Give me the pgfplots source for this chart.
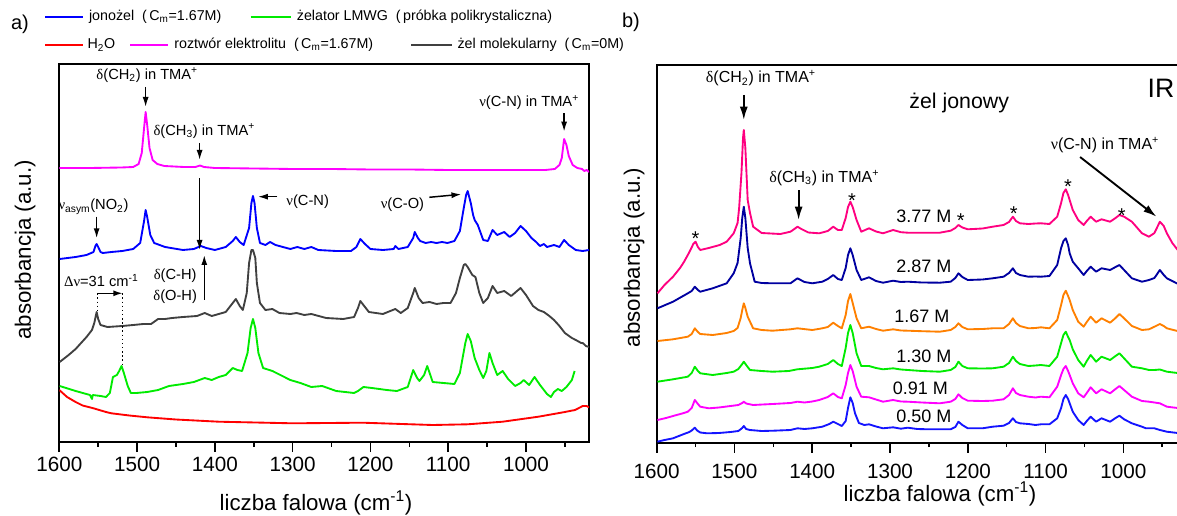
\documentclass[border=0pt]{standalone}
\usepackage{pgfplots}
\pgfplotsset{compat=1.18}
\usepackage{fontspec}
\setmainfont{Liberation Sans}
\newfontfamily\grk{Liberation Serif}
\usetikzlibrary{arrows.meta}
\definecolor{cblue}{RGB}{0,0,255}
\definecolor{cgreen}{RGB}{0,235,0}
\definecolor{cred}{RGB}{255,0,0}
\definecolor{cmag}{RGB}{255,0,255}
\definecolor{cgray}{RGB}{64,64,64}
\definecolor{cpink}{RGB}{255,0,128}
\definecolor{cnavy}{RGB}{0,0,160}
\definecolor{corange}{RGB}{255,128,0}
\definecolor{cgreenb}{RGB}{0,235,0}
\definecolor{cblueb}{RGB}{20,20,255}
\newcommand\fsA{\fontsize{11}{13}\selectfont}
\newcommand\fsB{\fontsize{12}{14}\selectfont}
\newcommand\fsL{\fontsize{10.7}{12}\selectfont}
\newcommand\fsX{\fontsize{16.7}{19}\selectfont}
\newcommand\fsS{\fontsize{15}{18}\selectfont}
\newcommand\fsC{\fontsize{13.5}{16}\selectfont}
\pgfplotsset{myax/.style={
  scale only axis, x dir=reverse, xmax=1600,
  ytick=\empty, xtick={1000,1100,...,1600}, minor xtick={950,1050,...,1550},
  tick pos=left, tick align=outside,
  major tick length=7.5pt, minor tick length=3.4pt,
  tick style={line width=1.2pt, black},
  axis line style={line width=1.2pt},
  tick label style={font=\fontsize{15.5}{18}\selectfont},
  /pgf/number format/1000 sep={},
  /pgf/number format/assume math mode=true,
  every axis plot/.append style={line width=1.4pt, line join=round, mark=none},
}}
\begin{document}
\begin{tikzpicture}
\path[use as bounding box] (0,0) rectangle (882.75pt,386.25pt);
% ---------------- panel a
\begin{axis}[myax, anchor=south west, at={(44.475pt,54.75pt)},
  width=397.275pt, height=283.5pt, xmin=919, ymin=1, ymax=379]
\addplot[cred] coordinates {(1600,53) (1590,46) (1579,41) (1570,37.5) (1556,34.7) (1540,31) (1533,29.7) (1510,27.5) (1487,25.7) (1450,23.5) (1395,21.3) (1300,19.7) (1210,20.3) (1120,18) (1075,18.7) (1030,21.3) (984,26.3) (950,31) (937,33) (927,37) (922,37) (919,35.7)};
\addplot[cgreen] coordinates {(1599.5,57) (1579,52) (1560.5,48) (1558,44) (1557,48) (1547,47) (1540,46) (1535,50) (1531,66) (1526,68) (1523,72) (1520,77) (1517,70) (1512,57) (1508,50) (1501,50) (1487,51) (1473,53) (1459,57) (1441,59) (1427,61) (1413,65) (1404,63) (1395,66) (1386,68) (1377,75) (1371,73) (1365,72) (1358,90) (1354,115) (1351,124) (1348,115) (1344,90) (1338,75) (1326,72) (1303,63) (1290,60) (1276,56) (1262,57) (1244,52) (1221,50) (1216,52) (1209,56) (1198,55) (1179,53) (1166,52) (1152,56) (1145,73) (1140,65) (1137,62) (1131,68) (1127,77) (1123,68) (1120,61) (1106,60) (1092,59) (1085,70) (1078,100) (1075,109) (1071,102) (1066,85) (1060,73) (1055,65) (1051,72) (1047,90) (1043,80) (1037,68) (1030,72) (1023,64) (1014,57) (1007,60) (1003,63) (996,58) (989,66) (982,58) (973,49) (968,46) (964,51) (959,54) (954,52) (948,56) (941,63) (937.5,72)};
\addplot[cgray] coordinates {(1599.5,81) (1588,88) (1579,94) (1565,106) (1558,113) (1555,120) (1552,131) (1550,124) (1547,118) (1538,116) (1519,117) (1505,118) (1492,119) (1482,119) (1473,124) (1464,124) (1455,125) (1441,126) (1423,127) (1413,130) (1404,127) (1395,129) (1386,131) (1377,140) (1373,144) (1368,137) (1364,133) (1359,150) (1356,180) (1353,193) (1351,193) (1348,185) (1346,160) (1342,140) (1335,133) (1326,134) (1317,130) (1303,129) (1295,130) (1285,128) (1276,129) (1257,125) (1235,124) (1221,126) (1216,135) (1213,142) (1209,138) (1202,131) (1184,129) (1168,134) (1161,130) (1152,135) (1145,150) (1143,155) (1138,145) (1133,140) (1124,141) (1115,139) (1106,140) (1097,140) (1090,150) (1085,165) (1080,178) (1078,179) (1075,176) (1069,168) (1065,166) (1060,150) (1055,140) (1049,145) (1043,157) (1037,150) (1028,152) (1019,147) (1007,155) (1000,148) (991,137) (984,133) (977,131) (970,127) (964,123) (957,117) (950,110) (941,105) (936,103) (929,100) (927,100) (923,97) (919,96)};
\addplot[cblue] coordinates {(1599.5,184) (1579,186) (1565,188) (1556,191) (1553.6,197) (1552,199) (1550,196) (1547,191) (1544,190) (1533,191) (1519,192) (1505,194) (1496,200) (1491,222) (1489,233) (1487,226) (1483,208) (1478,200) (1464,196) (1441,193) (1427,194) (1418,197) (1411,195) (1400,193) (1386,196) (1377,202) (1373,206) (1368,201) (1363,198) (1356,215) (1353,240) (1351,247) (1349,240) (1346,215) (1342,200) (1335,198) (1329,201) (1322,198) (1303,194) (1294,196) (1285,194) (1276,196) (1267,193) (1244,192) (1225,192) (1218,196) (1213,204) (1207,199) (1200,194) (1184,193) (1170,194) (1168,197) (1164,194) (1152,196) (1145,205) (1143,211) (1139,205) (1136,202) (1129,200) (1122,201) (1115,200) (1108,201) (1101,200) (1092,202) (1085,212) (1080,235) (1077,248) (1075,252) (1071,240) (1068,228) (1066,223) (1062,218) (1055,203) (1049,202) (1043,213) (1037,208) (1028,211) (1021,206) (1014,210) (1007,217) (1000,212) (993,205) (987,201) (982,197) (977,199) (973,196) (964,198) (957,196) (951,203) (945,198) (936,193) (927,192) (919,193)};
\addplot[cmag] coordinates {(1600,275) (1560,275) (1520,275.5) (1505,276) (1498,279) (1494,290) (1491,315) (1489,331) (1487,318) (1484,295) (1480,283) (1474,279) (1465,277) (1440,276) (1425,276) (1419,277.5) (1414,276) (1400,275) (1350,274.5) (1300,274) (1250,274) (1200,273.5) (1150,273.5) (1100,273) (1050,273) (1000,273) (975,273) (963,274) (957,278) (954,285) (951,304) (948,298) (945,287) (940,278) (934,275) (928,274) (925,272) (922,273) (919,271)};
% annotations a
\node[font=\fsA] at (axis cs:1487,368) {{\grk δ}(CH\textsubscript{2}) in TMA\textsuperscript{+}};
\draw[line width=1.1pt,-{Latex[length=7.5pt,width=4.5pt]}] (axis cs:1489,356) -- (axis cs:1489,336);
\node[font=\fsA] at (axis cs:1413.6,312) {{\grk δ}(CH\textsubscript{3}) in TMA\textsuperscript{+}};
\draw[line width=1.1pt,-{Latex[length=7.5pt,width=4.5pt]}] (axis cs:1419.6,300) -- (axis cs:1419.6,283);
\node[font=\fsA] at (axis cs:996,340.3) {{\grk ν}(C-N) in TMA\textsuperscript{+}};
\draw[line width=1.1pt,-{Latex[length=7.5pt,width=4.5pt]}] (axis cs:951,329.7) -- (axis cs:951,311.3);
\node[font=\fsA] at (axis cs:1556,236.3) {{\grk ν}\textsubscript{asym}(NO\textsubscript{2})};
\draw[line width=1.1pt,-{Latex[length=7.5pt,width=4.5pt]}] (axis cs:1552,226.3) -- (axis cs:1552,204.7);
\node[font=\fsA, anchor=west] at (axis cs:1314,241.3) {{\grk ν}(C-N)};
\draw[line width=1.1pt,-{Latex[length=7.5pt,width=4.5pt]}] (axis cs:1319.5,246.3) -- (axis cs:1344.7,246.3);
\node[font=\fsA, anchor=east] at (axis cs:1125,238) {{\grk ν}(C-O)};
\draw[line width=1.1pt,-{Latex[length=7.5pt,width=4.5pt]}] (axis cs:1124.3,245.7) -- (axis cs:1083,248.7);
\draw[line width=1.1pt,-{Latex[length=7.5pt,width=4.5pt]}] (axis cs:1419.6,264.7) -- (axis cs:1419.6,193);
\draw[line width=1.1pt,-{Latex[length=7.5pt,width=4.5pt]}] (axis cs:1413.6,143) -- (axis cs:1413.6,188);
\node[font=\fsA] at (axis cs:1451,167.3) {{\grk δ}(C-H)};
\node[font=\fsA] at (axis cs:1451,146.3) {{\grk δ}(O-H)};
\node[font=\fsA] at (axis cs:1546,162.3) {{\grk Δν}=31 cm\textsuperscript{-1}};
\draw[line width=1.1pt,-{Latex[length=7pt,width=4.5pt]}] (axis cs:1551,149.7) -- (axis cs:1518.5,149.7);
\draw[line width=1.1pt,dotted] (axis cs:1551,149.7) -- (axis cs:1551,131);
\draw[line width=1.1pt,dotted] (axis cs:1518.5,149.7) -- (axis cs:1518.5,78);
\end{axis}
% ---------------- panel b
\begin{axis}[myax, anchor=south west, at={(492.525pt,54.225pt)},
  width=392.475pt, height=283.275pt, xmin=927.1, ymin=0.3, ymax=378,
  xticklabel style={yshift=-5pt}]
\addplot[cblueb] coordinates {(1599,1.3) (1590,3) (1579,4.7) (1565,9) (1558,11) (1555,12.5) (1551,15.3) (1548,12.5) (1544,10.5) (1535,9.7) (1520,10) (1505,11) (1495,12) (1490,15) (1488,17) (1485,14) (1480,13) (1465,12) (1450,12.3) (1428,13) (1419,14.7) (1410,14) (1400,14.7) (1387,16.3) (1378,19) (1373,21.3) (1367,19) (1362,17) (1357,22) (1354,35) (1351,45.7) (1348,40) (1345,29.7) (1340,20) (1333,18) (1327,18.7) (1318,16.5) (1309,14.7) (1296,15.7) (1286,14.3) (1277,15.3) (1265,14) (1250,13.7) (1222,13.7) (1216,16) (1212,21.3) (1207,18) (1200,14.7) (1181,14.7) (1168,16.3) (1154,17.3) (1147,20) (1142,24.7) (1138,21) (1133,19.7) (1122,19) (1113,18) (1106,18.7) (1095,18.7) (1085,24.7) (1080,35) (1077,44) (1074,48) (1071,44) (1069,39.7) (1065,31.3) (1058,23) (1051,18) (1047,22) (1042,26.3) (1035,21.3) (1028,24.7) (1017,21.3) (1010,25) (1005,27.3) (999,23.7) (989,19.7) (976,16.3) (971,14.7) (960,14.7) (953,13) (944,11.3) (927,9.7)};
\addplot[cmag] coordinates {(1599,23) (1588,25) (1579,27) (1565,30) (1560,31.3) (1555,35) (1551,43) (1547,39) (1544,36.3) (1533,34.7) (1520,35.5) (1505,37) (1495,38) (1490,40) (1488,41.3) (1485,39.5) (1476,38) (1464,38.5) (1451,39) (1428,40) (1419,41.3) (1410,40.5) (1400,41.5) (1391,43) (1380,46) (1373,49.7) (1367,46) (1362,44.7) (1357,58) (1354,70) (1351,78) (1348,72) (1343,56.3) (1337,46.3) (1327,45.7) (1318,43.5) (1309,41.3) (1296,43) (1286,41.5) (1277,41.3) (1259,40.5) (1236,39.7) (1222,41.3) (1216,44) (1212,48.7) (1207,45) (1200,42.3) (1181,42) (1168,42.3) (1154,43.7) (1147,48) (1142,54.7) (1138,50) (1133,48) (1122,46.3) (1113,45.5) (1106,46.3) (1095,45.7) (1085,56.3) (1080,68) (1077,74) (1074,77) (1071,72) (1069,68) (1065,59.7) (1058,49.7) (1051,45.7) (1047,50) (1042,55.7) (1035,49.7) (1028,53.7) (1017,49.7) (1010,54) (1005,57) (999,53) (989,46.3) (976,42) (967,41.3) (960,40.5) (953,39.7) (944,36.3) (927,34.7)};
\addplot[cgreenb] coordinates {(1599,61.3) (1579,63.7) (1560,66.3) (1555,70) (1551,76.3) (1547,72) (1544,69.7) (1528,68) (1510,70) (1501,71.3) (1495,74) (1490,79) (1488,81.3) (1484,77) (1480,73) (1465,72) (1451,71.3) (1430,72) (1419,73.7) (1400,75) (1391,76.3) (1380,79) (1373,83) (1367,79) (1362,77) (1357,95) (1354,110) (1351,118) (1348,110) (1343,89.7) (1337,77) (1327,77) (1318,75) (1309,73.7) (1296,74.7) (1286,73.5) (1277,73) (1259,72) (1236,71.3) (1222,73) (1216,76) (1212,81.3) (1207,77) (1200,74.7) (1181,74.5) (1168,74.7) (1154,76.3) (1147,80) (1142,86.3) (1138,82) (1133,79) (1122,77) (1113,77.5) (1106,78) (1095,77) (1085,86.3) (1080,100) (1077,108) (1074,111.3) (1071,106) (1069,103) (1065,93.7) (1058,83) (1051,76.3) (1047,82) (1042,88) (1035,81.3) (1028,86.3) (1017,83) (1010,87) (1005,89.7) (999,84.7) (989,76.3) (976,74.7) (967,73) (960,73) (953,73.5) (944,71.3) (927,69.7)};
\addplot[corange] coordinates {(1599,102) (1579,103.7) (1560,106.3) (1555,109) (1551,114.7) (1547,111) (1544,109) (1528,108) (1510,110) (1501,112) (1496,115) (1492,125) (1490,133) (1488,139.7) (1486,135) (1483,126.3) (1476,114.7) (1465,113) (1451,112.3) (1428,113.7) (1419,114.7) (1400,113) (1387,114.7) (1380,116) (1373,120.3) (1367,117) (1362,114.7) (1357,128) (1354,142) (1351,149) (1348,140) (1343,124.7) (1337,114.7) (1327,116.3) (1318,114) (1309,112.3) (1296,113.7) (1286,112.5) (1277,112.3) (1259,111.8) (1236,111.3) (1222,113) (1216,116) (1212,119.7) (1207,116) (1200,113.7) (1181,114) (1168,114.7) (1154,114.7) (1147,119) (1142,124.7) (1138,120) (1133,117) (1122,114.7) (1113,115) (1106,115.7) (1095,114.7) (1085,123) (1080,138) (1077,148) (1074,152.3) (1071,147) (1069,143) (1065,133) (1058,121.3) (1051,116.3) (1047,121) (1042,126.3) (1035,120.3) (1028,124.7) (1017,120.3) (1010,125) (1005,129) (999,124.7) (989,117) (976,113) (967,113.7) (960,116.3) (953,119) (948,117) (944,114.7) (927,111.3)};
\addplot[cnavy] coordinates {(1599,134.7) (1579,141.3) (1560,149.7) (1555,152) (1551,156.3) (1547,153) (1544,151.3) (1528,154.7) (1510,159.7) (1501,169.7) (1496,180) (1492,205) (1490,225) (1488,236.3) (1486,225) (1483,195) (1480,179.7) (1474,161.3) (1465,160) (1451,159.7) (1428,159.7) (1419,164.7) (1410,161) (1400,159.7) (1387,161.3) (1380,164) (1373,168) (1367,164) (1362,163) (1357,175) (1354,188) (1351,194.7) (1348,188) (1343,173) (1337,163) (1327,165.7) (1318,162) (1309,160.3) (1296,162.3) (1286,161) (1277,161.3) (1259,160.5) (1236,160.3) (1222,161.3) (1216,165) (1212,169.7) (1207,166) (1200,163) (1181,163.5) (1168,164.7) (1154,166.3) (1147,170) (1142,174.7) (1138,170) (1133,168) (1122,166.3) (1113,166.5) (1106,166.3) (1095,167) (1085,178) (1080,195) (1077,202) (1074,204.7) (1071,198) (1069,189.7) (1065,181.3) (1058,174.7) (1051,168) (1047,172) (1042,176.3) (1035,171.3) (1028,174.7) (1017,173) (1010,176) (1005,178) (999,173) (989,164.7) (976,161.3) (967,163) (960,165) (953,173) (948,168) (944,164.7) (927,158)};
\addplot[cpink] coordinates {(1599,149.7) (1590,158) (1579,166.3) (1570,175) (1565,181) (1560,188) (1556,194) (1553,199) (1550,201.3) (1547,196) (1544,193) (1533,195) (1519,198) (1510,201.3) (1501,209.7) (1496,220) (1494,235) (1491,270) (1489,305) (1488,313) (1486,295) (1483,243) (1480,230) (1476,216.3) (1465,210) (1441,209) (1428,211.3) (1423,214) (1419,216.3) (1414,214) (1405,210.5) (1391,209.7) (1380,212) (1373,216.3) (1367,213) (1362,213) (1357,225) (1354,236) (1351,241.3) (1348,236) (1343,223) (1337,211.3) (1327,214.7) (1318,211.5) (1309,209.7) (1296,213) (1286,210.8) (1277,210.3) (1259,210.3) (1236,210.3) (1222,212.3) (1216,215) (1212,218) (1207,215.5) (1200,213.7) (1181,214.5) (1168,216.3) (1154,218) (1147,221) (1142,226.3) (1138,222) (1133,219.7) (1122,219) (1113,219.5) (1106,219.7) (1095,219) (1085,226.3) (1080,240) (1077,250) (1074,253.7) (1071,248) (1069,243) (1065,233) (1058,223) (1051,218) (1047,222) (1042,226.3) (1035,221.3) (1028,223.7) (1017,221.3) (1010,225) (1005,228) (999,226.3) (989,221.3) (976,209.7) (967,206.3) (960,210) (953,221.3) (948,217) (944,209.7) (937,200) (927,190)};
% annotations b
\node[font=\fsB] at (axis cs:1466,364.7) {{\grk δ}(CH\textsubscript{2}) in TMA\textsuperscript{+}};
\draw[line width=1.4pt,-{Latex[length=10pt,width=6pt]}] (axis cs:1488,348) -- (axis cs:1488,323);
\node[font=\fsB] at (axis cs:1384.6,265) {{\grk δ}(CH\textsubscript{3}) in TMA\textsuperscript{+}};
\draw[line width=1.4pt,-{Latex[length=10pt,width=6pt]}] (axis cs:1417.5,253) -- (axis cs:1417.5,223);
\node[font=\fontsize{16}{19}\selectfont] at (axis cs:1211,340) {żel jonowy};
\node[font=\fontsize{20}{24}\selectfont, anchor=west, inner sep=0pt] at (axis cs:969,354.7) {IR};
\node[font=\fsB] at (axis cs:1023.6,298) {{\grk ν}(C-N) in TMA\textsuperscript{+}};
\draw[line width=1.4pt,-{Latex[length=10pt,width=6pt]}] (axis cs:1055.6,286) -- (axis cs:957.3,226.3);
\node[font=\fsS] at (axis cs:1550,204) {*};
\node[font=\fsS] at (axis cs:1349,242) {*};
\node[font=\fsS] at (axis cs:1209,222) {*};
\node[font=\fsS] at (axis cs:1141,229) {*};
\node[font=\fsS] at (axis cs:1071,256) {*};
\node[font=\fsS] at (axis cs:1002,227.3) {*};
\node[font=\fsC] at (axis cs:1256.6,226.3) {3.77 M};
\node[font=\fsC] at (axis cs:1256.6,177) {2.87 M};
\node[font=\fsC] at (axis cs:1259,126.3) {1.67 M};
\node[font=\fsC] at (axis cs:1256.6,87) {1.30 M};
\node[font=\fsC] at (axis cs:1261,54.7) {0.91 M};
\node[font=\fsC] at (axis cs:1256.6,27) {0.50 M};
\end{axis}
% ---------------- outer labels and legend
\begin{scope}[x=0.75pt,y=0.75pt]
\node[font=\fsX, anchor=base] at (316,5) {liczba falowa (cm\textsuperscript{-1})};
\node[font=\fsX, anchor=base] at (940,14) {liczba falowa (cm\textsuperscript{-1})};
\node[font=\fsX, rotate=90] at (25,265) {absorbancja (a.u.)};
\node[font=\fsX, rotate=90] at (634,257.5) {absorbancja (a.u.)};
\node[font=\fontsize{15}{18}\selectfont] at (20,491) {a)};
\node[font=\fontsize{15}{18}\selectfont] at (631,493) {b)};
\draw[cblue, line width=1.5pt] (45.2,498.3) -- (83.4,498.3);
\node[anchor=west, font=\fsL, inner sep=0pt] at (88.8,498.3) {jonożel\ \ (\,C\textsubscript{m}=1.67M)};
\draw[cgreen, line width=1.5pt] (250.7,498.3) -- (290.9,498.3);
\node[anchor=west, font=\fsL, inner sep=0pt] at (296.6,498.3) {żelator LMWG\ \ (\,próbka polikrystaliczna)};
\draw[cred, line width=1.5pt] (45.2,470) -- (83.4,470);
\node[anchor=west, font=\fsL, inner sep=0pt] at (87.3,470) {H\textsubscript{2}O};
\draw[cmag, line width=1.5pt] (130,470) -- (168.4,470);
\node[anchor=west, font=\fsL, inner sep=0pt] at (174.1,470) {roztwór elektrolitu\ \ (\,C\textsubscript{m}=1.67M)};
\draw[cgray, line width=1.5pt] (411.4,470) -- (451.6,470);
\node[anchor=west, font=\fsL, inner sep=0pt] at (457.3,470) {żel molekularny\ \ (\,C\textsubscript{m}=0M)};
\end{scope}
\end{tikzpicture}
\end{document}
